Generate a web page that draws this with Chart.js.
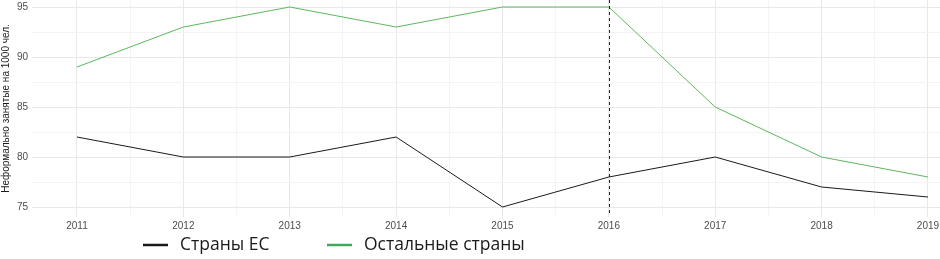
<!DOCTYPE html>
<html><head><meta charset="utf-8">
<script src="https://cdn.jsdelivr.net/npm/chart.js@4"></script>
<style>html,body{margin:0;padding:0;background:#fff;}#wrap{width:940px;height:259px;}</style>
</head><body><div id="wrap"><canvas id="c" width="940" height="259"></canvas></div>
<script>
const years = [2011, 2012, 2013, 2014, 2015, 2016, 2017, 2018, 2019];
const euValues = [82, 80, 80, 82, 75, 78, 80, 77, 76];
const otherValues = [89, 93, 95, 93, 95, 95, 85, 80, 78];
const yTicks = [75, 80, 85, 90, 95];
const seriesNames = ['Страны ЕС', 'Остальные страны'];
const markerYear = 2016;
const yTitle = 'Неформально занятые на 1000 чел.';

const colors = ['#1a1a1a', '#5cb85c'];
const legendColors = ['#1a1a1a', '#3fa85a'];
const fontFam = '"Liberation Sans", Arial, sans-serif';

const vline = {
  id: 'vline',
  afterDatasetsDraw(chart) {
    const {ctx, chartArea, scales} = chart;
    const x = scales.x.getPixelForValue(markerYear);
    ctx.save();
    ctx.strokeStyle = '#222';
    ctx.lineWidth = 1;
    ctx.setLineDash([3, 3]);
    ctx.beginPath();
    ctx.moveTo(Math.round(x) + 0.5, chartArea.top);
    ctx.lineTo(Math.round(x) + 0.5, chartArea.bottom - 2);
    ctx.stroke();
    ctx.restore();
  }
};

const customLegend = {
  id: 'customLegend',
  afterDraw(chart) {
    const ctx = chart.ctx;
    ctx.save();
    ctx.font = '17.5px "Open Sans", ' + fontFam;
    ctx.textBaseline = 'middle';
    const y = 245;
    const starts = [143, 327];
    chart.data.datasets.forEach((ds, i) => {
      const x0 = starts[i];
      ctx.strokeStyle = legendColors[i];
      ctx.lineWidth = 2.5;
      ctx.beginPath();
      ctx.moveTo(x0, y);
      ctx.lineTo(x0 + 25, y);
      ctx.stroke();
      ctx.fillStyle = '#1a1a1a';
      ctx.fillText(ds.label, x0 + 37, y);
    });
    ctx.restore();
  }
};

new Chart(document.getElementById('c'), {
  type: 'line',
  data: {
    datasets: [
      { label: seriesNames[0], data: years.map((y, i) => ({x: y, y: euValues[i]})), borderColor: colors[0], borderWidth: 1, pointRadius: 0, tension: 0 },
      { label: seriesNames[1], data: years.map((y, i) => ({x: y, y: otherValues[i]})), borderColor: colors[1], borderWidth: 1, pointRadius: 0, tension: 0 }
    ]
  },
  options: {
    responsive: false,
    animation: false,
    layout: { padding: 0 },
    plugins: { legend: { display: false }, tooltip: { enabled: false } },
    scales: {
      x: {
        type: 'linear',
        min: 2010.577,
        max: 2019.113,
        afterBuildTicks(scale) {
          const t = [];
          years.forEach(y => { t.push({value: y}); if (y + 0.5 < scale.max) t.push({value: y + 0.5}); });
          scale.ticks = t;
        },
        afterFit(scale) { scale.height = 42; scale.paddingLeft = 0; scale.paddingRight = 0; },
        border: { display: false },
        grid: {
          drawTicks: false,
          color: c => (c.tick && Number.isInteger(c.tick.value)) ? '#e8e8e8' : '#f4f4f4',
          lineWidth: 1
        },
        ticks: {
          padding: 3,
          maxRotation: 0,
          autoSkip: false,
          color: '#4d4d4d',
          font: { family: fontFam, size: 10 },
          callback: v => Number.isInteger(v) ? String(v) : ''
        }
      },
      y: {
        min: 74,
        max: 95.7,
        afterBuildTicks(scale) {
          const t = [];
          yTicks.forEach((v, i) => { t.push({value: v}); if (i < yTicks.length - 1) t.push({value: v + 2.5}); });
          scale.ticks = t;
        },
        afterFit(scale) { scale.width = 32; scale.paddingTop = 0; scale.paddingBottom = 0; },
        border: { display: false },
        grid: {
          drawTicks: false,
          color: c => (c.tick && Number.isInteger(c.tick.value)) ? '#e8e8e8' : '#f4f4f4',
          lineWidth: 1
        },
        title: {
          display: true,
          text: yTitle,
          color: '#1a1a1a',
          font: { family: fontFam, size: 10 },
          padding: { top: 0, bottom: 2 }
        },
        ticks: {
          padding: 4,
          color: '#4d4d4d',
          font: { family: fontFam, size: 10 },
          callback: v => Number.isInteger(v) ? String(v) : ''
        }
      }
    }
  },
  plugins: [vline, customLegend]
});
</script>
</body></html>
